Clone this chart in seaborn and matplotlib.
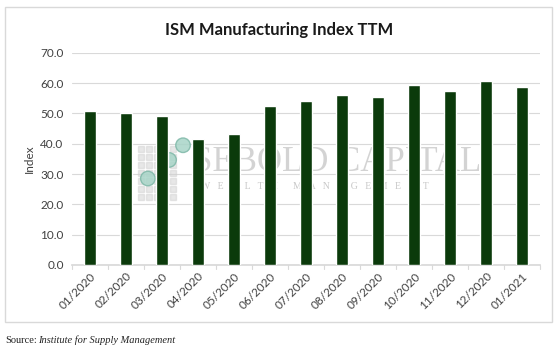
import pandas as pd
import seaborn as sns
import matplotlib.pyplot as plt
from matplotlib.patches import Rectangle, Ellipse

# Dữ liệu chỉ số ISM
months = ["01/2020", "02/2020", "03/2020", "04/2020", "05/2020", "06/2020", "07/2020",
          "08/2020", "09/2020", "10/2020", "11/2020", "12/2020", "01/2021"]
index_values = [50.9, 50.1, 49.1, 41.5, 43.1, 52.6, 54.2, 56.0, 55.4, 59.3, 57.5, 60.7, 58.7]
y_ticks = [0, 10, 20, 30, 40, 50, 60, 70]

df = pd.DataFrame({"month": months, "index": index_values})

sns.set_theme(style="white")
plt.rcParams["font.family"] = ["Lato", "DejaVu Sans"]

fig = plt.figure(figsize=(5.58, 3.5), dpi=100)
ax = fig.add_axes([0.129, 0.243, 0.839, 0.606])

sns.barplot(data=df, x="month", y="index", color="#0b3a0b", width=0.32,
            saturation=1, ax=ax, zorder=3)

# Lưới và trục
ax.set_ylim(0, 70)
ax.set_yticks(y_ticks)
ax.set_yticklabels([f"{t:.1f}" for t in y_ticks], fontsize=8.5, color="#404040")
ax.yaxis.grid(True, color="#d9d9d9", linewidth=0.8, zorder=0)
ax.set_xlim(-0.5, len(months) - 0.5)
ax.set_xticks(range(len(months)))
ax.set_xticklabels(months, rotation=45, ha="right", rotation_mode="anchor",
                   fontsize=8.5, color="#404040")
ax.tick_params(axis="x", length=0, pad=4)
ax.tick_params(axis="y", length=0, pad=6)
for x in [i + 0.5 for i in range(-1, len(months))]:
    ax.plot([x, x], [0, -1.2], color="#d9d9d9", lw=0.8, clip_on=False)
for s in ["top", "right", "left"]:
    ax.spines[s].set_visible(False)
ax.spines["bottom"].set_color("#d9d9d9")
ax.set_xlabel("")
ax.set_ylabel("Index", fontsize=8.5, color="#404040", labelpad=4)

# Tiêu đề
fig.text(0.5, 0.915, "ISM Manufacturing Index TTM", ha="center", va="center",
         fontsize=12, fontweight="bold", color="#1a1a1a")

# Watermark (logo mờ, nằm sau các cột)
tf = fig.transFigure
for gx in range(5):
    for gy in range(7):
        ax.add_patch(Rectangle((0.247 + gx * 0.0145, 0.43 + gy * 0.0225), 0.011, 0.017,
                               transform=tf, color="#d0d0d0", alpha=0.5,
                               zorder=1, clip_on=False))
for cx, cy in [(0.265, 0.49), (0.303, 0.543), (0.328, 0.585)]:
    ax.add_patch(Ellipse((cx, cy), 0.026, 0.026 * 558 / 350, transform=tf,
                         facecolor="#a8d5c8", edgecolor="#7fb8a8", alpha=0.85,
                         zorder=2, clip_on=False))
ax.text(0.345, 0.535, "SEBOLD CAPITAL", ha="left", va="center", fontsize=25,
        family="Liberation Serif", color="#b0b0b0", alpha=0.55, zorder=2, transform=tf)
ax.text(0.36, 0.466, "W   E   A   L   T   H      M   A   N   A   G   E   M   E   N   T",
        ha="left", va="center", fontsize=7, family="Liberation Serif",
        color="#b0b0b0", alpha=0.7, zorder=2, transform=tf)

# Khung viền
fig.patches.append(Rectangle((0.009, 0.08), 0.98, 0.9, transform=tf,
                             fill=False, edgecolor="#d9d9d9", linewidth=1))

# Nguồn
fig.text(0.009, 0.028, "Source:", ha="left", va="center", fontsize=7.5,
         family="Liberation Serif", color="#222222")
fig.text(0.068, 0.028, "Institute for Supply Management", ha="left", va="center",
         fontsize=7.5, family="Liberation Serif", style="italic", color="#222222")

fig.savefig("out.png", dpi=100)
